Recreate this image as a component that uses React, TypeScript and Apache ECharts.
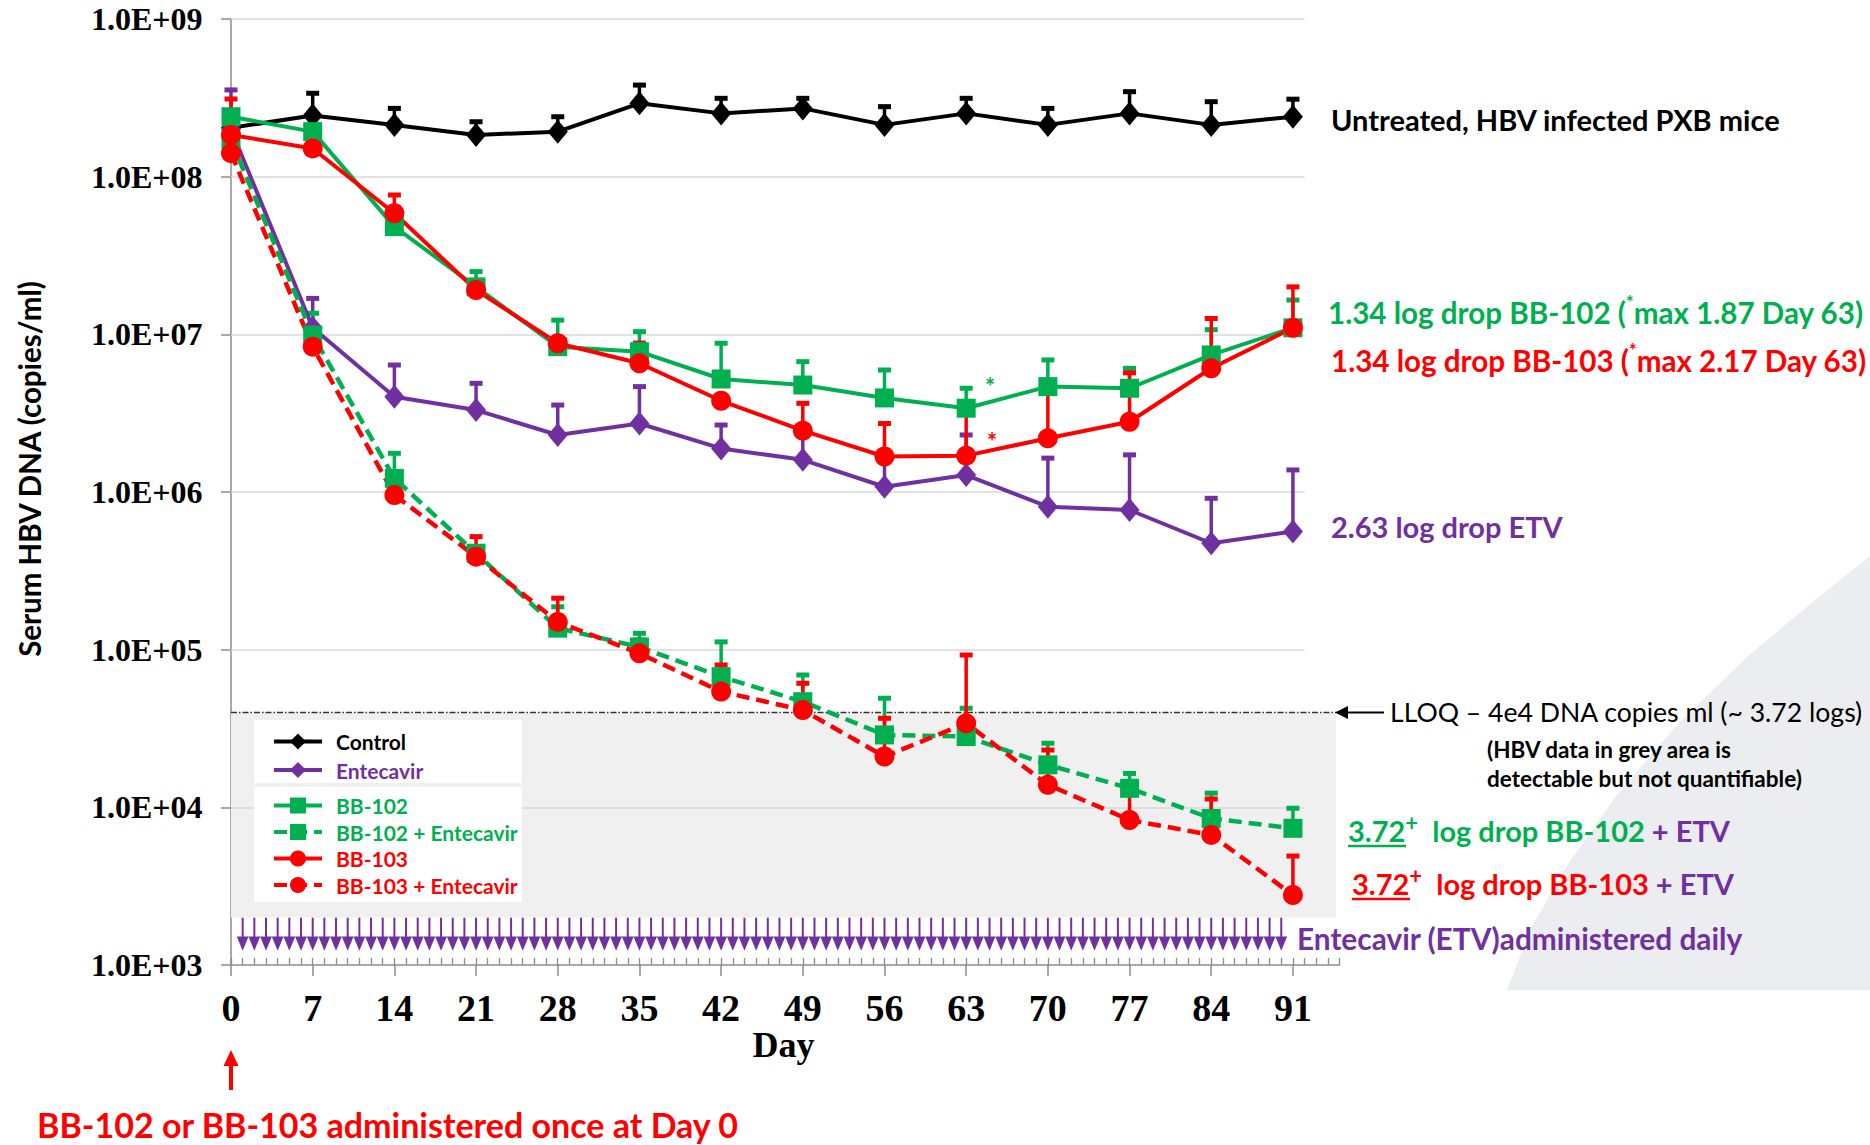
import React, { useEffect, useRef } from "react";
import * as echarts from "echarts";

// Study days on which serum HBV DNA was measured
const days = [0, 7, 14, 21, 28, 35, 42, 49, 56, 63, 70, 77, 84, 91];

// Group means (copies/ml) and upper error-bar ends (mean + SD); null = no visible bar
const controlMean = [2.04e8, 2.44e8, 2.13e8, 1.84e8, 1.93e8, 2.92e8, 2.52e8, 2.71e8, 2.13e8, 2.52e8, 2.13e8, 2.52e8, 2.13e8, 2.4e8];
const controlUpper = [null, 3.38e8, 2.71e8, 2.23e8, 2.4e8, 3.81e8, 3.14e8, 3.14e8, 2.78e8, 3.14e8, 2.71e8, 3.46e8, 2.99e8, 3.1e8];

const etvMean = [2.0e8, 1.1e7, 4.02e6, 3.31e6, 2.3e6, 2.72e6, 1.89e6, 1.6e6, 1.08e6, 1.28e6, 8.07e5, 7.69e5, 4.73e5, 5.62e5];
const etvUpper = [3.55e8, 1.69e7, 6.39e6, 4.89e6, 3.56e6, 4.66e6, 2.66e6, 2.3e6, 1.8e6, 2.3e6, 1.64e6, 1.72e6, 9.12e5, 1.38e6];

const bb102Mean = [2.4e8, 1.93e8, 4.82e7, 2.0e7, 8.35e6, 7.76e6, 5.21e6, 4.77e6, 3.95e6, 3.4e6, 4.66e6, 4.55e6, 7.4e6, 1.1e7];
const bb102Upper = [null, null, null, 2.5e7, 1.23e7, 1.04e7, 8.78e6, 6.71e6, 5.94e6, 4.55e6, 6.88e6, 6.09e6, 1.07e7, 1.65e7];

const bb102EtvMean = [1.7e8, 9.9e6, 1.22e6, 4.09e5, 1.37e5, 1.04e5, 6.74e4, 4.68e4, 2.88e4, 2.81e4, 1.86e4, 1.32e4, 8.5e3, 7.36e3];
const bb102EtvUpper = [null, 1.36e7, 1.76e6, null, 1.87e5, 1.27e5, 1.12e5, 6.91e4, 4.92e4, 4.25e4, 2.55e4, 1.64e4, 1.23e4, 9.86e3];

const bb103Mean = [1.84e8, 1.51e8, 5.86e7, 1.91e7, 8.78e6, 6.55e6, 3.79e6, 2.45e6, 1.68e6, 1.7e6, 2.19e6, 2.79e6, 6.09e6, 1.1e7];
const bb103Upper = [null, null, 7.65e7, null, null, 8.8e6, null, 3.65e6, 2.72e6, 3.3e6, 4.6e6, 5.7e6, 1.26e7, 2.0e7];

const bb103EtvMean = [1.41e8, 8.35e6, 9.57e5, 3.89e5, 1.5e5, 9.48e4, 5.42e4, 4.14e4, 2.1e4, 3.41e4, 1.39e4, 8.31e3, 6.68e3, 2.78e3];
const bb103EtvUpper = [3.11e8, null, null, 5.21e5, 2.12e5, 1.15e5, 8.0e4, 6.12e4, 3.67e4, 9.25e4, 2.31e4, 1.3e4, 1.13e4, 4.91e3];

// Daily entecavir doses
const dosingDays = [
  1, 2, 3, 4, 5, 6, 7, 8, 9, 10, 11, 12, 13, 14, 15, 16, 17, 18, 19, 20, 21, 22, 23, 24, 25, 26, 27, 28, 29, 30,
  31, 32, 33, 34, 35, 36, 37, 38, 39, 40, 41, 42, 43, 44, 45, 46, 47, 48, 49, 50, 51, 52, 53, 54, 55, 56, 57, 58, 59, 60,
  61, 62, 63, 64, 65, 66, 67, 68, 69, 70, 71, 72, 73, 74, 75, 76, 77, 78, 79, 80, 81, 82, 83, 84, 85, 86, 87, 88, 89, 90,
];

// Axis ticks
const xTickDays = [0, 7, 14, 21, 28, 35, 42, 49, 56, 63, 70, 77, 84, 91];
const yTickValues = [1e3, 1e4, 1e5, 1e6, 1e7, 1e8, 1e9];
const yTickLabels = ["1.0E+03", "1.0E+04", "1.0E+05", "1.0E+06", "1.0E+07", "1.0E+08", "1.0E+09"];

// Lower limit of quantification (copies/ml)
const LLOQ = 4e4;

const X_MAX = 95;
const GRIDLINE_END = 92;
const SHADE_RIGHT = 94.7;
const SHADE_FLOOR = 2000;
const LLOQ_LINE_END = 94.9;

const BLACK = "#000000";
const PURPLE = "#7030A0";
const GREEN = "#00B050";
const RED = "#FF0000";
const AXIS_GREY = "#8C8C8C";
const SANS = "Lato, 'Noto Sans', sans-serif";
const SERIF = "'Liberation Serif', 'Times New Roman', serif";

const everyDay = Array.from({ length: X_MAX + 1 }, (_, i) => i);

function points(mean: number[]) {
  return days.map((d, i) => [d, mean[i]]);
}

function bars(mean: number[], upper: (number | null)[]) {
  const out: number[][] = [];
  days.forEach((d, i) => {
    if (upper[i] != null) out.push([d, mean[i], upper[i] as number]);
  });
  return out;
}

function errorSeries(name: string, mean: number[], upper: (number | null)[], color: string) {
  return {
    type: "custom",
    name,
    silent: true,
    xAxisIndex: 0,
    yAxisIndex: 0,
    data: bars(mean, upper),
    encode: { x: 0, y: [1, 2] },
    renderItem: (_params: any, api: any) => {
      const p0 = api.coord([api.value(0), api.value(1)]);
      const p1 = api.coord([api.value(0), api.value(2)]);
      return {
        type: "group",
        children: [
          {
            type: "line",
            shape: { x1: p0[0], y1: p0[1], x2: p1[0], y2: p1[1] },
            style: { stroke: color, lineWidth: 3.5 },
          },
          {
            type: "rect",
            shape: { x: p1[0] - 6.5, y: p1[1] - 2.5, width: 13, height: 5 },
            style: { fill: color },
          },
        ],
      };
    },
  };
}

function lineSeries(name: string, mean: number[], color: string, symbol: string, symbolSize: any, dashed: boolean) {
  return {
    type: "line",
    name,
    xAxisIndex: 0,
    yAxisIndex: 0,
    data: points(mean),
    symbol,
    symbolSize,
    lineStyle: { color, width: dashed ? 4.5 : 4, type: dashed ? [13, 7] : "solid" },
    itemStyle: { color },
    emphasis: { disabled: true },
  };
}

function txt(id: string, x: number, y: number, text: string, fill: string, fontSize: number, extra: any = {}) {
  return {
    type: "text",
    id,
    z: 6,
    silent: true,
    x,
    y,
    style: {
      text,
      fill,
      fontSize,
      fontFamily: SANS,
      fontWeight: "bold",
      align: "left",
      verticalAlign: "middle",
      ...extra,
    },
  };
}

function richToken(color: string, size: number, sup = false) {
  return sup
    ? { fill: color, fontSize: size, fontFamily: SANS, fontWeight: "bold", verticalAlign: "top", lineHeight: size + 2 }
    : { fill: color, fontSize: size, fontFamily: SANS, fontWeight: "bold", lineHeight: size + 8 };
}

function buildGraphics(lloqY: number, day0X: number) {
  const NOTE = 29;
  const DROP = 29.6;
  return [
    // soft backdrop shape at lower right
    {
      type: "polygon",
      id: "backdrop",
      z: 0,
      silent: true,
      shape: {
        points: [
          [1870, 556], [1820, 596], [1748, 656], [1676, 726], [1616, 796], [1568, 864],
          [1531, 928], [1507, 990], [1870, 990],
        ],
      },
      style: { fill: "#ECEDF0" },
    },
    // legend panels
    { type: "rect", id: "legBox1", z: 3, silent: true, shape: { x: 254, y: 720, width: 268, height: 63 }, style: { fill: "#FFFFFF" } },
    { type: "rect", id: "legBox2", z: 3, silent: true, shape: { x: 254, y: 787, width: 268, height: 115 }, style: { fill: "#FFFFFF" } },

    txt("untreated", 1331, 119, "Untreated, HBV infected PXB mice", BLACK, NOTE),
    txt("drop102", 1328, 312, "{a|1.34 log drop BB-102 (}{s|*}{a|max 1.87 Day 63)}", GREEN, DROP, {
      rich: { a: richToken(GREEN, DROP), s: richToken(GREEN, 18, true) },
    }),
    txt("drop103", 1331, 360, "{a|1.34 log drop BB-103 (}{s|*}{a|max 2.17 Day 63)}", RED, DROP, {
      rich: { a: richToken(RED, DROP), s: richToken(RED, 18, true) },
    }),
    txt("dropEtv", 1331, 526, "2.63 log drop ETV", PURPLE, NOTE),

    txt("star102", 985, 386, "*", GREEN, 24),
    txt("star103", 987, 441, "*", RED, 24),

    // LLOQ callout
    {
      type: "polygon",
      id: "lloqHead",
      z: 6,
      silent: true,
      shape: { points: [[1335, lloqY], [1348, lloqY - 6.5], [1348, lloqY + 6.5]] },
      style: { fill: BLACK },
    },
    {
      type: "line",
      id: "lloqShaft",
      z: 6,
      silent: true,
      shape: { x1: 1346, y1: lloqY, x2: 1384, y2: lloqY },
      style: { stroke: BLACK, lineWidth: 2 },
    },
    txt("lloqText", 1390, lloqY, "LLOQ – 4e4 DNA copies ml (~ 3.72 logs)", BLACK, 26.6, { fontWeight: "normal" }),
    txt("note1", 1487, lloqY + 37, "(HBV data in grey area is", BLACK, 22.5, { fontWeight: "bold" }),
    txt("note2", 1487, lloqY + 66, "detectable but not quantifiable)", BLACK, 22.5, { fontWeight: "bold" }),

    txt("combo102", 1348, 830, "{u|3.72}{s|+}{g|  log drop BB-102 }{p|+ ETV}", GREEN, NOTE, {
      rich: { u: richToken(GREEN, NOTE), s: richToken(GREEN, 22, true), g: richToken(GREEN, NOTE), p: richToken(PURPLE, NOTE) },
    }),
    { type: "line", id: "ul102", z: 6, silent: true, shape: { x1: 1348, y1: 846, x2: 1406, y2: 846 }, style: { stroke: GREEN, lineWidth: 2.5 } },
    txt("combo103", 1352, 883, "{u|3.72}{s|+}{g|  log drop BB-103 }{p|+ ETV}", RED, NOTE, {
      rich: { u: richToken(RED, NOTE), s: richToken(RED, 22, true), g: richToken(RED, NOTE), p: richToken(PURPLE, NOTE) },
    }),
    { type: "line", id: "ul103", z: 6, silent: true, shape: { x1: 1352, y1: 899, x2: 1410, y2: 899 }, style: { stroke: RED, lineWidth: 2.5 } },

    txt("etvDaily", 1297, 938, "Entecavir (ETV)administered daily", PURPLE, 29.8),

    // single dose marker under day 0
    {
      type: "polygon",
      id: "doseHead",
      z: 6,
      silent: true,
      shape: { points: [[day0X, 1050], [day0X - 7.5, 1066], [day0X + 7.5, 1066]] },
      style: { fill: RED },
    },
    {
      type: "line",
      id: "doseShaft",
      z: 6,
      silent: true,
      shape: { x1: day0X, y1: 1064, x2: day0X, y2: 1090 },
      style: { stroke: RED, lineWidth: 4 },
    },
    txt("doseText", 37, 1124, "BB-102 or BB-103 administered once at Day 0", RED, 34),

    // axis titles
    {
      type: "text",
      id: "yTitle",
      z: 6,
      silent: true,
      x: 29,
      y: 469,
      rotation: Math.PI / 2,
      style: {
        text: "Serum HBV DNA (copies/ml)",
        fill: BLACK,
        fontSize: 29.5,
        fontFamily: SANS,
        fontWeight: "bold",
        align: "center",
        verticalAlign: "middle",
      },
    },
    {
      type: "text",
      id: "xTitle",
      z: 6,
      silent: true,
      x: 783.5,
      y: 1045,
      style: {
        text: "Day",
        fill: BLACK,
        fontSize: 36,
        fontFamily: SERIF,
        fontWeight: "bold",
        align: "center",
        verticalAlign: "middle",
      },
    },
  ];
}

export default function App() {
  const ref = useRef<HTMLDivElement>(null);

  useEffect(() => {
    if (!ref.current) return;
    const chart = echarts.init(ref.current, null, { renderer: "svg" });

    const gridLines = yTickValues.slice(1).map((v) => [
      { coord: [0, v], lineStyle: { color: "#D9D9D9", width: 1.5, type: "solid" } },
      { coord: [GRIDLINE_END, v] },
    ]);
    const lloqLine = [
      { coord: [0, LLOQ], lineStyle: { color: "#333333", width: 1.3, type: [6, 2, 1.5, 2] } },
      { coord: [LLOQ_LINE_END, LLOQ] },
    ];

    const legendBase = {
      orient: "vertical",
      left: 272,
      padding: 0,
      itemWidth: 48,
      itemHeight: 20,
      selectedMode: false,
      lineStyle: { width: 4 },
      textStyle: { fontFamily: SANS, fontWeight: "bold", fontSize: 21, padding: [0, 0, 0, 9] },
    };

    const option: any = {
      animation: false,
      backgroundColor: "#FFFFFF",
      grid: { left: 231, top: 19, width: 1108.6, height: 946, containLabel: false },
      xAxis: [
        {
          type: "value",
          min: 0,
          max: X_MAX,
          position: "bottom",
          axisLine: { show: true, onZero: false, lineStyle: { color: AXIS_GREY, width: 1.5 } },
          axisTick: { show: true, length: 11, customValues: xTickDays, lineStyle: { color: AXIS_GREY, width: 1.5 } },
          axisLabel: {
            customValues: xTickDays,
            margin: 24,
            fontFamily: SERIF,
            fontWeight: "bold",
            fontSize: 38,
            color: BLACK,
          },
          splitLine: { show: false },
        },
        {
          type: "value",
          min: 0,
          max: X_MAX,
          position: "bottom",
          axisLine: { show: false, onZero: false },
          axisTick: { show: true, inside: true, length: 7, customValues: everyDay, lineStyle: { color: AXIS_GREY, width: 1.3 } },
          axisLabel: { show: false },
          splitLine: { show: false },
        },
      ],
      yAxis: {
        type: "log",
        logBase: 10,
        min: 1e3,
        max: 1e9,
        axisLine: { show: true, lineStyle: { color: AXIS_GREY, width: 1.5 } },
        axisTick: { show: true, length: 10, lineStyle: { color: AXIS_GREY, width: 1.5 } },
        axisLabel: {
          margin: 28.5,
          fontFamily: SERIF,
          fontWeight: "bold",
          fontSize: 32,
          color: BLACK,
          formatter: (v: number) => {
            const i = yTickValues.findIndex((t) => Math.abs(Math.log10(t) - Math.log10(v)) < 1e-6);
            return i >= 0 ? yTickLabels[i] : "";
          },
        },
        splitLine: { show: false },
      },
      legend: [
        {
          ...legendBase,
          top: 731,
          itemGap: 7.5,
          data: [
            { name: "Control", textStyle: { color: BLACK } },
            { name: "Entecavir", textStyle: { color: PURPLE } },
          ],
        },
        {
          ...legendBase,
          top: 795,
          itemGap: 5.5,
          data: [
            { name: "BB-102", textStyle: { color: GREEN } },
            { name: "BB-102 + Entecavir", textStyle: { color: GREEN } },
            { name: "BB-103", textStyle: { color: RED } },
            { name: "BB-103 + Entecavir", textStyle: { color: RED } },
          ],
        },
      ],
      series: [
        {
          type: "line",
          name: "reference lines",
          data: [],
          silent: true,
          symbol: "none",
          markArea: {
            silent: true,
            z: 1,
            itemStyle: { color: "#F0F0F0" },
            data: [[{ coord: [0, LLOQ] }, { coord: [SHADE_RIGHT, SHADE_FLOOR] }]],
          },
          markLine: {
            silent: true,
            z: 2,
            symbol: ["none", "none"],
            label: { show: false },
            data: [...gridLines, lloqLine],
          },
        },
        {
          type: "custom",
          name: "ETV dosing",
          silent: true,
          data: dosingDays.map((d) => [d]),
          encode: { x: 0 },
          renderItem: (params: any, api: any) => {
            const x = api.coord([api.value(0), 1e3])[0];
            const base = params.coordSys.y + params.coordSys.height;
            return {
              type: "group",
              children: [
                {
                  type: "line",
                  shape: { x1: x, y1: base - 47.3, x2: x, y2: base - 28 },
                  style: { stroke: PURPLE, lineWidth: 2 },
                },
                {
                  type: "polygon",
                  shape: { points: [[x - 5.9, base - 28.5], [x + 5.9, base - 28.5], [x, base - 14.3]] },
                  style: { fill: PURPLE },
                },
              ],
            };
          },
        },
        errorSeries("Control SD", controlMean, controlUpper, BLACK),
        lineSeries("Control", controlMean, BLACK, "diamond", [20, 24], false),
        errorSeries("Entecavir SD", etvMean, etvUpper, PURPLE),
        lineSeries("Entecavir", etvMean, PURPLE, "diamond", [20, 24], false),
        errorSeries("BB-102 SD", bb102Mean, bb102Upper, GREEN),
        lineSeries("BB-102", bb102Mean, GREEN, "rect", [19, 19], false),
        errorSeries("BB-102 + Entecavir SD", bb102EtvMean, bb102EtvUpper, GREEN),
        lineSeries("BB-102 + Entecavir", bb102EtvMean, GREEN, "rect", [19, 19], true),
        errorSeries("BB-103 SD", bb103Mean, bb103Upper, RED),
        lineSeries("BB-103", bb103Mean, RED, "circle", 20, false),
        errorSeries("BB-103 + Entecavir SD", bb103EtvMean, bb103EtvUpper, RED),
        lineSeries("BB-103 + Entecavir", bb103EtvMean, RED, "circle", 20, true),
      ],
    };

    chart.setOption(option);
    const lloqY = chart.convertToPixel({ yAxisIndex: 0 }, LLOQ) as number;
    const day0X = chart.convertToPixel({ xAxisIndex: 0 }, 0) as number;
    chart.setOption({ graphic: { elements: buildGraphics(lloqY, day0X) } });

    return () => chart.dispose();
  }, []);

  return (
    <div
      ref={ref}
      style={{ position: "fixed", left: 0, top: 0, width: 1870, height: 1145, background: "#FFFFFF" }}
    />
  );
}
